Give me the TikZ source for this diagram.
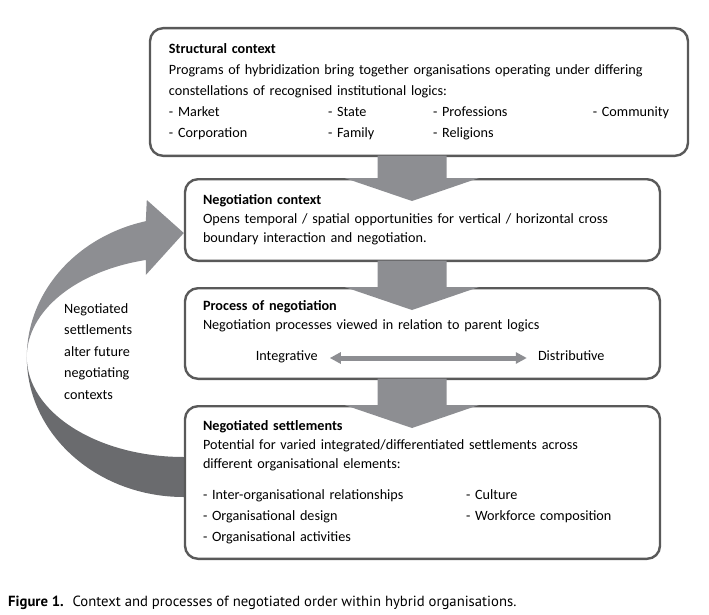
\documentclass[tikz,border=0pt]{standalone}
\usepackage{fontspec}
\setmainfont{Carlito}
\newfontfamily\capfont{PT Sans}
\usetikzlibrary{arrows.meta,positioning,backgrounds,calc}
\definecolor{boxline}{HTML}{595959}
\definecolor{bandlight}{HTML}{8D8E92}
\definecolor{banddark}{HTML}{6A6B6E}

\begin{document}
\begin{tikzpicture}[
  x=1bp,y=-1bp,
  font=\fontsize{14.2bp}{19bp}\selectfont,
  >={Triangle[length=11bp,width=11bp]},
  box/.style={draw=boxline,line width=2.4bp,rounded corners=13bp,fill=white,
              align=left,inner xsep=18bp,inner ysep=3bp,text width=439bp},
  flowarrow/.style={fill=bandlight},
  frontband/.style={fill=bandlight},
  backband/.style={fill=banddark},
  dbl/.style={<->,line width=5bp,draw=bandlight},
  lbl/.style={inner sep=0pt,text height=1.6ex,text depth=0.4ex},
]
\useasboundingbox (0,0) rectangle (709,615);

% ---- stacked boxes (top to bottom) --------------------------------------
\node[box,text width=500bp,inner xsep=19bp,minimum height=127.6bp,
      font=\fontsize{14.2bp}{21bp}\selectfont] (S) at (419,92)
  {\textbf{Structural context}\\
   Programs of hybridization bring together organisations operating under differing\\
   constellations of recognised institutional logics:\\
   \makebox[159bp][l]{- Market}\makebox[105bp][l]{- State}\makebox[150bp][l]{- Professions}\hfill- Community\\
   \makebox[159bp][l]{- Corporation}\makebox[105bp][l]{- Family}- Religions};
\node[box,minimum height=81.6bp,below=21bp of S,xshift=3.5bp] (N)
  {\textbf{Negotiation context}\\
   Opens temporal / spatial opportunities for vertical / horizontal cross\\
   boundary interaction and negotiation.};
\node[box,minimum height=90.6bp,below=25bp of N] (P)
  {\textbf{Process of negotiation}\\
   Negotiation processes viewed in relation to parent logics\\[13bp]\strut};
\node[box,minimum height=152.6bp,below=25bp of P] (G)
  {\textbf{Negotiated settlements}\\
   Potential for varied integrated/differentiated settlements across\\
   different organisational elements:\\[12bp]
   \makebox[263bp][l]{- Inter-organisational relationships}- Culture\\[2bp]
   \makebox[263bp][l]{- Organisational design}- Workforce composition\\[2bp]
   - Organisational activities};

% ---- integrative / distributive scale -----------------------------------
\node[lbl,anchor=east] (int) at ($(P.south west)+(134,-22)$) {Integrative};
\node[lbl,right=220bp of int] (dis) {Distributive};
\draw[dbl,shorten <=12bp,shorten >=11bp] (int.east) -- (dis.west);

% ---- downward block arrows ----------------------------------------------
\foreach \a/\b in {S/N,N/P,P/G}
  \fill[flowarrow] ($(\b.north |- \a.south)+(-45,-1.5)$) -- ++(69,0)
      -- ($(\b.north)+(24,0)$) -- ++(32.5,0) -- ($(\b.north)+(-10.5,23)$)
      -- ($(\b.north)+(-78,0)$) -- ++(33,0) -- cycle;

% ---- feedback loop (behind the boxes) -----------------------------------
\coordinate (loop) at ($(G.west)+(0,-125.5)$);
\begin{scope}[on background layer]
  \fill[backband] ($(loop)+(180:157 and 140)$)
      arc[start angle=180,end angle=90,x radius=157,y radius=140]
      -- ++(0,-40)
      arc[start angle=90,end angle=180,x radius=157,y radius=100] -- cycle;
  \fill[frontband] ($(loop)+(256:157 and 140)$)
      arc[start angle=256,end angle=180,x radius=157,y radius=140]
      arc[start angle=180,end angle=256,x radius=157,y radius=100]
      -- ++(0,15) -- ($(N.west)+(0,13)$) -- ++(-37,-33) -- cycle;
\end{scope}
\node[align=left,anchor=north west,inner sep=0pt,
      font=\fontsize{14.2bp}{21.5bp}\selectfont] (txt) at (64,303)
  {Negotiated\\settlements\\alter future\\negotiating\\contexts};

% ---- caption --------------------------------------------------------------
\node[anchor=base west,inner sep=0pt,font=\capfont\fontsize{14.7bp}{18bp}\selectfont]
  (cap) at (8,606)
  {\textbf{Figure 1.}\hspace{0.6em}Context and processes of negotiated order within hybrid organisations.};
\end{tikzpicture}
\end{document}
